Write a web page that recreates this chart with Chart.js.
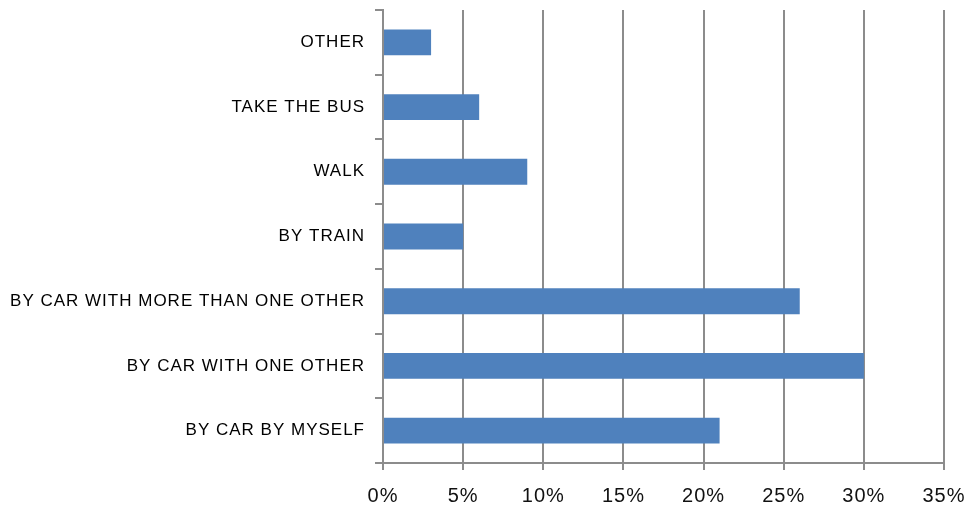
<!DOCTYPE html>
<html>
<head>
<meta charset="utf-8">
<script src="https://cdn.jsdelivr.net/npm/chart.js@4"></script>
<style>
  html, body { margin: 0; padding: 0; background: #fff; }
  #wrap { width: 971px; height: 510px; }
</style>
</head>
<body>
<div id="wrap"><canvas id="ch1"></canvas></div>
<script>
// how people get to work, share of answers
const categories = [
  'OTHER',
  'TAKE THE BUS',
  'WALK',
  'BY TRAIN',
  'BY CAR WITH MORE THAN ONE OTHER',
  'BY CAR WITH ONE OTHER',
  'BY CAR BY MYSELF'
];
const shares = [3, 6, 9, 5, 26, 30, 21];
const xTicks = [0, 5, 10, 15, 20, 25, 30, 35];

const gridGray = '#8c8c8c';

var ctx = document.getElementById('ch1').getContext('2d');

// a little extra letter spacing for all the labels
const spacing = {
  id: 'spacing',
  beforeDraw: chart => { chart.ctx.letterSpacing = '1px'; }
};

var myBarChart = new Chart(ctx, {
  type: 'bar',
  data: {
    labels: categories,
    datasets: [{
      data: shares,
      backgroundColor: '#4f81bd',
      borderWidth: 0,
      categoryPercentage: 1,
      barPercentage: 0.4
    }]
  },
  plugins: [spacing],
  options: {
    indexAxis: 'y',
    responsive: true,
    maintainAspectRatio: false,
    animation: false,
    layout: { padding: { top: 10, right: 27, bottom: 0, left: 0 } },
    plugins: { legend: { display: false }, tooltip: { enabled: false } },
    scales: {
      x: {
        min: 0,
        max: 35,
        afterBuildTicks: scale => { scale.ticks = xTicks.map(v => ({ value: v })); },
        afterFit: scale => {
          scale.height = 47;
          scale.paddingLeft = 0;
          scale.paddingRight = 0;
        },
        grid: { color: gridGray, lineWidth: 2, tickLength: 7, drawTicks: true },
        border: { color: gridGray, width: 2 },
        ticks: {
          padding: 14,
          color: '#111',
          font: { family: 'Liberation Sans', size: 20 },
          callback: v => v + '%'
        }
      },
      y: {
        afterFit: scale => {
          scale.width = 383;
          scale.paddingTop = 0;
          scale.paddingBottom = 0;
        },
        grid: { offset: true, drawOnChartArea: false, color: gridGray, lineWidth: 2, tickLength: 8 },
        border: { color: gridGray, width: 2 },
        ticks: {
          padding: 10,
          color: '#000',
          font: { family: 'Liberation Sans', size: 17 }
        }
      }
    }
  }
});
</script>
</body>
</html>
